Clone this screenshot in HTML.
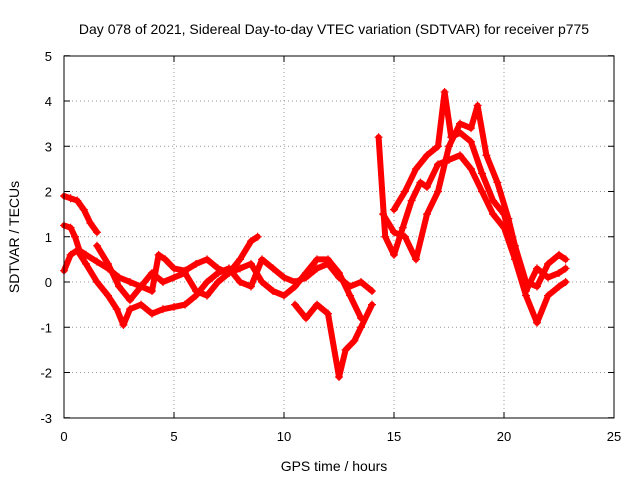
<!DOCTYPE html>
<html><head><meta charset="utf-8"><style>
body{margin:0;background:#fff}
svg{display:block;font-family:"Liberation Sans",sans-serif}
</style></head><body>
<svg id="c" width="640" height="480">
<rect width="640" height="480" fill="#fff"/>
<text x="334" y="34" font-size="14" text-anchor="middle">Day 078 of 2021, Sidereal Day-to-day VTEC variation (SDTVAR) for receiver p775</text>
<text x="334" y="471" font-size="14" text-anchor="middle">GPS time / hours</text>
<text transform="translate(19,237) rotate(-90)" font-size="14" text-anchor="middle">SDTVAR / TECUs</text>
<g id="grid"></g><g id="data"></g>
<rect x="64" y="56" width="550" height="362" fill="none" stroke="#000"/>
</svg>
<script>
const xTicks=[0,5,10,15,20,25];
const yTicks=[-3,-2,-1,0,1,2,3,4,5];
const trackA=[[0,1.9],[0.3,1.85],[0.6,1.8],[0.9,1.6],[1.2,1.3],[1.5,1.1]];
const trackB=[[0,1.25],[0.3,1.2],[0.5,1.0],[0.7,0.7],[1,0.6],[1.5,0.45],[2,0.3],[2.5,0.1],[3,0],[3.5,-0.1],[4,-0.2],[4.3,0.6],[4.6,0.5],[5,0.3],[5.5,0.25],[6,0.4],[6.5,0.5],[7,0.3],[7.5,0.2],[8,0.5],[8.5,0.9],[8.8,1.0]];
const trackC=[[0,0.25],[0.3,0.6],[0.6,0.7],[1,0.4],[1.5,0],[2,-0.3],[2.4,-0.6],[2.7,-0.95],[3,-0.6],[3.5,-0.5],[4,-0.7],[4.5,-0.6],[5,-0.55],[5.5,-0.5],[6,-0.3],[6.5,0],[7,0.2],[7.5,0.3],[8,0],[8.5,-0.1],[9,0.5],[9.5,0.3],[10,0.1],[10.5,0],[11,0.1],[11.5,0.3],[12,0.4],[12.5,0.1],[13,-0.1],[13.5,0],[14,-0.2]];
const trackD=[[1.5,0.8],[2,0.4],[2.5,-0.1],[3,-0.4],[3.5,-0.1],[4,0.2],[4.5,0],[5,0.1],[5.5,0.2],[6,-0.2],[6.5,-0.3],[7,0],[7.5,0.2],[8,0.3],[8.5,0.4],[9,0],[9.5,-0.2],[10,-0.3],[10.5,-0.1],[11,0.2],[11.5,0.5],[12,0.5],[12.5,0.2],[13,-0.3],[13.5,-0.8]];
const trackE=[[10.5,-0.5],[11,-0.8],[11.5,-0.5],[12,-0.7],[12.5,-2.1],[12.8,-1.5],[13.2,-1.3],[13.5,-1.0],[14,-0.5]];
const trackF=[[14.3,3.2],[14.6,1.0],[15,0.6],[15.4,1.2],[15.8,1.8],[16.2,2.2],[16.5,2.1],[17,2.6],[17.5,2.7],[18,2.8],[18.5,2.5],[19,2.0],[19.5,1.5],[20,1.2],[20.5,0.5],[21,-0.3],[21.5,-0.9],[22,-0.3],[22.5,-0.1],[22.8,0]];
const trackG=[[14.5,1.5],[15,1.1],[15.5,1.0],[16,0.5],[16.5,1.5],[17,2.0],[17.5,3.0],[18,3.5],[18.5,3.4],[18.8,3.9],[19.2,2.8],[19.7,2.2],[20.2,1.4],[20.5,0.8],[21,0],[21.5,-0.1],[22,0.4],[22.5,0.6],[22.8,0.5]];
const trackH=[[15,1.6],[15.5,2.0],[16,2.5],[16.5,2.8],[17,3.0],[17.3,4.2],[17.6,3.2],[18,3.3],[18.5,3.1],[19,2.4],[19.5,1.8],[20,1.5],[20.5,0.6],[21,-0.2],[21.5,0.3],[22,0.1],[22.5,0.2],[22.8,0.3]];
const tracks=[trackA,trackB,trackC,trackD,trackE,trackF,trackG,trackH];
const NS="http://www.w3.org/2000/svg";
const X=v=>64+v*22, Y=v=>282-v*45.25;
const g=document.getElementById('grid'), d=document.getElementById('data');
function mk(t,a,p){const e=document.createElementNS(NS,t);for(const k in a)e.setAttribute(k,a[k]);p.appendChild(e);return e;}
xTicks.forEach(t=>{
  if(t>0&&t<25){const l=mk('line',{x1:X(t),x2:X(t),y1:56,y2:418,stroke:'#999','stroke-dasharray':'1,3'},g);
  
  }
  mk('line',{x1:X(t),x2:X(t),y1:418,y2:412,stroke:'#000'},g);
  mk('line',{x1:X(t),x2:X(t),y1:56,y2:62,stroke:'#000'},g);
  const tx=mk('text',{x:X(t),y:441,'font-size':13,'text-anchor':'middle'},g);tx.textContent=t;
  
  
});
yTicks.forEach(t=>{
  if(t>-3&&t<5){const l=mk('line',{x1:64,x2:614,y1:Y(t),y2:Y(t),stroke:'#999','stroke-dasharray':'1,3'},g);
  
  }
  mk('line',{x1:64,x2:70,y1:Y(t),y2:Y(t),stroke:'#000'},g);
  mk('line',{x1:608,x2:614,y1:Y(t),y2:Y(t),stroke:'#000'},g);
  const tx=mk('text',{x:52,y:Y(t)+5,'font-size':13,'text-anchor':'end'},g);tx.textContent=t;
  
  
});
tracks.forEach((tr,i)=>{
  const pl=mk('polyline',{points:tr.map(p=>X(p[0])+','+Y(p[1])).join(' '),fill:'none',stroke:'#f00','stroke-width':6,'stroke-linejoin':'round','stroke-linecap':'round'},d);
  
  
  tr.forEach(p=>{
    const m=mk('path',{d:`M${X(p[0])-4},${Y(p[1])}h8M${X(p[0])},${Y(p[1])-4}v8`,stroke:'#f00','stroke-width':1.2},d);
    
    
  });
});
</script>
</body></html>
